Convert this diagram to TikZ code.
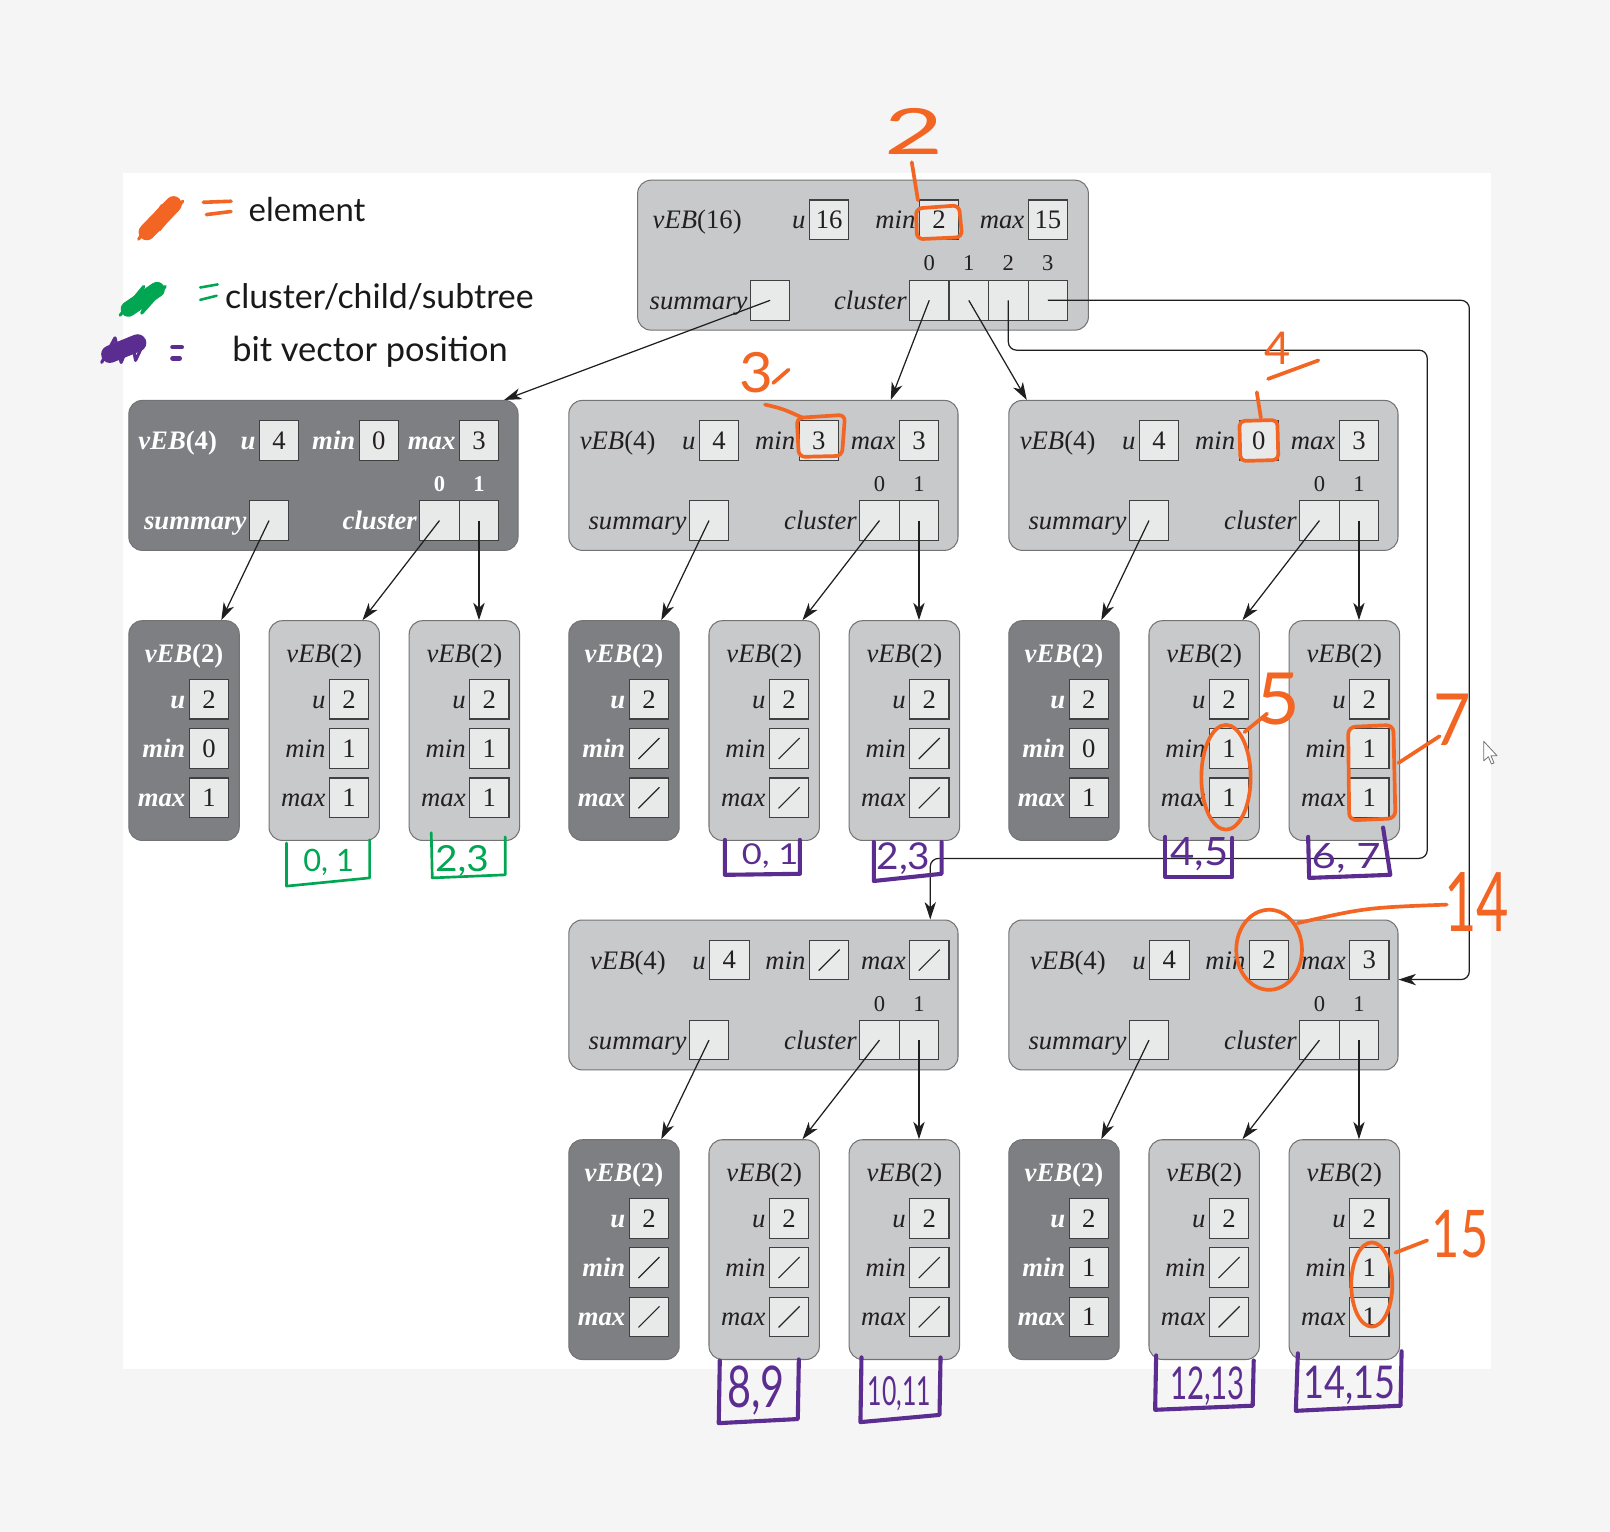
\documentclass[tikz,border=0pt]{standalone}
\usepackage{fontspec}
\usepackage{graphicx}
\setmainfont{Liberation Serif}
\newfontfamily\handfont{Lato}
\usetikzlibrary{arrows.meta,calc}
\definecolor{bgout}{RGB}{245,245,245}
\definecolor{panellight}{RGB}{200,201,203}
\definecolor{paneldark}{RGB}{126,127,131}
\definecolor{cellfill}{RGB}{232,233,233}
\definecolor{txtdark}{RGB}{35,31,32}
\definecolor{inkorange}{RGB}{242,101,34}
\definecolor{inkpurple}{RGB}{92,45,145}
\definecolor{inkgreen}{RGB}{0,166,81}
\tikzset{
  panel/.style={draw=black!55, line width=1pt, rounded corners=13pt, inner sep=0pt},
  lightpanel/.style={panel, fill=panellight},
  darkpanel/.style={panel, fill=paneldark},
  cell/.style={draw=black!75, line width=1.1pt, fill=cellfill, minimum size=38.5pt, inner sep=0pt, text=txtdark, font=\fontsize{26}{30}\selectfont},
  val/.style={node contents={#1}},
  nil/.style={node contents={}, path picture={\draw[line width=1.1pt, black!85] ($(path picture bounding box.south west)+(9pt,9pt)$) -- ($(path picture bounding box.north east)+(-9pt,-9pt)$);}},
  ltext/.style={inner sep=0pt, text=txtdark, font=\fontsize{26}{30}\selectfont\itshape},
  dtext/.style={inner sep=0pt, text=white, font=\fontsize{26}{30}\selectfont\bfseries\itshape},
  lidx/.style={inner sep=0pt, text=txtdark, font=\fontsize{22}{26}\selectfont},
  didx/.style={inner sep=0pt, text=white, font=\fontsize{22}{26}\selectfont\bfseries},
  conn/.style={draw=black!88, line width=1.2pt, -{Stealth[length=17pt,width=11pt,inset=5pt]}},
  hand/.style={line width=3.6pt, line cap=round, line join=round},
}
% vEB(4) panel: #1 name, #2 left, #3 top, #4 shift of top row, #5 min, #6 max, #7 panel style, #8 text style, #9 index style
\newcommand\vebfour[9]{%
  \node[#7, minimum width=379pt, minimum height=146pt] (#1) at (#2+189.5,#3+73) {};
  \node[#8, anchor=base] (#1-t) at (#2+47.5+#4,#3+47.8) {vEB\textup{(4)}};
  \node (#1-u) at (#2+146.3+#4,#3+39) [cell,val=4];
  \node[#8, anchor=base east] (#1-ul) at ($(#1-u.west)+(-3,8.8)$) {u};
  \node (#1-mn) at (#2+243.5+#4,#3+39) [cell,#5];
  \node[#8, anchor=base east] (#1-mnl) at ($(#1-mn.west)+(-3,8.8)$) {min};
  \node (#1-mx) at (#2+341+#4,#3+39) [cell,#6];
  \node[#8, anchor=base east] (#1-mxl) at ($(#1-mx.west)+(-3,8.8)$) {max};
  \node (#1-s) at (#2+136.5,#3+117) [cell,val={}];
  \node[#8, anchor=base east] (#1-sl) at ($(#1-s.west)+(-2,8.8)$) {summary};
  \node (#1-c0) at (#2+302.5,#3+117) [cell,val={}];
  \node (#1-c1) at (#2+341,#3+117) [cell,val={}];
  \node[#8, anchor=base east] (#1-cl) at ($(#1-c0.west)+(-2,8.8)$) {cluster};
  \node[#9] (#1-i0) at (#2+302.5,#3+81.5) {0};
  \node[#9] (#1-i1) at (#2+341,#3+81.5) {1};
}
% vEB(2) panel: #1 name, #2 left, #3 top, #4 min, #5 max, #6 panel style, #7 text style
\newcommand\vebtwo[7]{%
  \node[#6, minimum width=107.5pt, minimum height=214pt] (#1) at (#2+53.75,#3+107) {};
  \node[#7, anchor=base] (#1-t) at (#2+53.75,#3+41) {vEB\textup{(2)}};
  \node (#1-u) at (#2+78,#3+76.5) [cell,val=2];
  \node[#7, anchor=base east] (#1-ul) at ($(#1-u.west)+(-3,8.8)$) {u};
  \node (#1-mn) at (#2+78,#3+124.5) [cell,#4];
  \node[#7, anchor=base east] (#1-mnl) at ($(#1-mn.west)+(-3,8.8)$) {min};
  \node (#1-mx) at (#2+78,#3+172.5) [cell,#5];
  \node[#7, anchor=base east] (#1-mxl) at ($(#1-mx.west)+(-3,8.8)$) {max};
}
% hand-written label: #1 name, #2 colour, #3 size, #4 xscale, #5 position, #6 text
\newcommand\handlabel[6]{%
  \node[inner sep=0pt, text=#2, font=\handfont\fontsize{#3}{#3}\selectfont] (#1) at #5 {\scalebox{#4}[1]{#6}};
}
\begin{document}
\begin{tikzpicture}[x=1pt,y=-1pt]
\useasboundingbox (0,0) rectangle (1568,1492);
\fill[bgout] (0,0) rectangle (1568,1492);
\fill[white] (120,168) rectangle (1452,1333);

% ---------- root vEB(16)
\node[lightpanel, minimum width=439pt, minimum height=146pt] (T) at (840.5,248.5) {};
\node[ltext, anchor=base] (T-t) at (679,222.8) {vEB\textup{(16)}};
\node (T-u) at (807.5,214) [cell,val=16];
\node[ltext, anchor=base east] (T-ul) at ($(T-u.west)+(-3,8.8)$) {u};
\node (T-mn) at (914.5,214) [cell,val=2];
\node[ltext, anchor=base east] (T-mnl) at ($(T-mn.west)+(-3,8.8)$) {min};
\node (T-mx) at (1020.5,214) [cell,val=15];
\node[ltext, anchor=base east] (T-mxl) at ($(T-mx.west)+(-3,8.8)$) {max};
\node (T-s) at (750,292.5) [cell,val={}];
\node[ltext, anchor=base east] (T-sl) at ($(T-s.west)+(-2,8.8)$) {summary};
\foreach \i/\xx in {0/905,1/943.5,2/982,3/1020.5}{
  \node (T-c\i) at (\xx,292.5) [cell,val={}];
  \node[lidx] (T-i\i) at (\xx,256.5) {\i};
}
\node[ltext, anchor=base east] (T-cl) at ($(T-c0.west)+(-2,8.8)$) {cluster};

% ---------- vEB(4) panels
\vebfour{A}{125.5}{390}{0}{val=0}{val=3}{darkpanel}{dtext}{didx}
\vebfour{B}{554}{390}{0}{val=3}{val=3}{lightpanel}{ltext}{lidx}
\vebfour{C}{982.5}{390}{0}{val=0}{val=3}{lightpanel}{ltext}{lidx}
\vebfour{D}{554}{896}{10}{nil}{nil}{lightpanel}{ltext}{lidx}
\vebfour{E}{982.5}{896}{10}{val=2}{val=3}{lightpanel}{ltext}{lidx}

% ---------- vEB(2) panels
\vebtwo{A0}{125.5}{604.5}{val=0}{val=1}{darkpanel}{dtext}
\vebtwo{A1}{262}{604.5}{val=1}{val=1}{lightpanel}{ltext}
\vebtwo{A2}{398.5}{604.5}{val=1}{val=1}{lightpanel}{ltext}
\vebtwo{B0}{554}{604.5}{nil}{nil}{darkpanel}{dtext}
\vebtwo{B1}{690.5}{604.5}{nil}{nil}{lightpanel}{ltext}
\vebtwo{B2}{827}{604.5}{nil}{nil}{lightpanel}{ltext}
\vebtwo{C0}{982.5}{604.5}{val=0}{val=1}{darkpanel}{dtext}
\vebtwo{C1}{1119}{604.5}{val=1}{val=1}{lightpanel}{ltext}
\vebtwo{C2}{1255.5}{604.5}{val=1}{val=1}{lightpanel}{ltext}
\vebtwo{D0}{554}{1110}{nil}{nil}{darkpanel}{dtext}
\vebtwo{D1}{690.5}{1110}{nil}{nil}{lightpanel}{ltext}
\vebtwo{D2}{827}{1110}{nil}{nil}{lightpanel}{ltext}
\vebtwo{E0}{982.5}{1110}{val=1}{val=1}{darkpanel}{dtext}
\vebtwo{E1}{1119}{1110}{nil}{nil}{lightpanel}{ltext}
\vebtwo{E2}{1255.5}{1110}{val=1}{val=1}{lightpanel}{ltext}

% ---------- connectors
\draw[conn] (T-s.center) -- ($(A.north east)+(-14,0)$);
\draw[conn] (T-c0.center) -- ($(B.north east)+(-66,0)$);
\draw[conn] (T-c1.center) -- ($(C.north west)+(18,0)$);
\coordinate (k1) at (1390,341);
\coordinate (k2) at (1390,836);
\coordinate (k3) at (906,836);
\draw[conn, rounded corners=8pt] (T-c2.center) |- (k1) -- (k2) -- (k3) -- (k3 |- D.north);
\coordinate (k4) at (1431,954);
\draw[conn, rounded corners=8pt] (T-c3.center) -| (k4) -- (k4 -| E.east);
\foreach \g in {A,B,C,D,E}{
  \draw[conn] (\g-s.center) -- ($(\g0.north east)+(-18,0)$);
  \draw[conn] (\g-c0.center) -- ($(\g1.north east)+(-17,0)$);
  \draw[conn] (\g-c1.center) -- (\g-c1.center |- \g2.north);
}

% ---------- legend
\draw[inkorange, line width=16pt, line cap=round] (143,226) -- (169,199);
\draw[hand, inkorange, line width=3pt] (135,233) -- (158,200) -- (145,228) -- (171,195) -- (155,224) -- (178,196);
\draw[hand, inkorange, line width=3.5pt] (198,197) -- (225,196);
\draw[hand, inkorange, line width=3.5pt] (201,209) -- (225,206);
\node[inner sep=0pt, anchor=base west, font=\handfont\fontsize{32}{32}\selectfont, text=black!90] (lg1) at (242,216) {element};

\draw[inkgreen, line width=15pt, line cap=round] (125,301) -- (153,282);
\draw[hand, inkgreen, line width=3pt] (117,307) -- (140,279) -- (127,305) -- (152,277) -- (138,305) -- (161,279);
\draw[hand, inkgreen, line width=2.5pt] (195,280) -- (212,277);
\draw[hand, inkgreen, line width=2.5pt] (195,292) -- (211,288);
\node[inner sep=0pt, anchor=base west, font=\handfont\fontsize{33}{33}\selectfont, text=black!90] (lg2) at (219,300) {cluster/child/subtree};

\draw[inkpurple, line width=17pt, line cap=round] (107,345) -- (134,334);
\draw[hand, inkpurple, line width=3pt] (99,353) -- (112,329) -- (118,353) -- (128,329) -- (132,351) -- (141,332);
\draw[hand, inkpurple, line width=4.5pt] (168,338) -- (177,338);
\draw[hand, inkpurple, line width=4.5pt] (168,349) -- (175,349);
\node[inner sep=0pt, anchor=base west, font=\handfont\fontsize{33.5}{33.5}\selectfont, text=black!90] (lg3) at (226,352) {bit vector position};

% ---------- orange annotations
\handlabel{o2}{inkorange}{62}{1.6}{(890,128)}{2}
\draw[hand, inkorange] (888,158) -- (894,195);
\draw[hand, inkorange, rounded corners=6pt] (892,203) -- (934,200) -- (937,231) -- (893,233) -- cycle;

\handlabel{o3}{inkorange}{54}{1.05}{(737,363)}{3}
\draw[hand, inkorange] (753,373) -- (768,360);
\draw[hand, inkorange] (745,394) .. controls (762,398) .. (782,407);
\draw[hand, inkorange, rounded corners=6pt] (776,407) -- (823,404) -- (820,444) -- (778,445) -- cycle;

\handlabel{o4}{inkorange}{44}{1}{(1244,339)}{4}
\draw[hand, inkorange] (1235,369) -- (1284,351);
\draw[hand, inkorange] (1224,382) -- (1228,407);
\draw[hand, inkorange, rounded corners=5pt] (1207,410) -- (1244,409) -- (1245,448) -- (1208,449) -- cycle;

\handlabel{o5}{inkorange}{70}{1.05}{(1245,681)}{5}
\draw[hand, inkorange] (1212,713) -- (1234,695);
\draw[hand, inkorange] (1194,757) ellipse [x radius=24, y radius=51];

\handlabel{o7}{inkorange}{70}{0.9}{(1414,701)}{7}
\draw[hand, inkorange] (1362,743) -- (1402,717);
\draw[hand, inkorange, rounded corners=7pt] (1313,708) -- (1357,706) -- (1359,797) -- (1314,799) -- cycle;

\handlabel{o14}{inkorange}{80}{0.68}{(1438,878)}{14}
\draw[hand, inkorange] (1264,899) .. controls (1330,884) .. (1409,881);
\draw[hand, inkorange] (1236,925) ellipse [x radius=32, y radius=39];

\handlabel{o15}{inkorange}{64}{0.74}{(1422,1202)}{15}
\draw[hand, inkorange] (1359,1220) -- (1390,1208);
\draw[hand, inkorange] (1336,1251) ellipse [x radius=20, y radius=41];

% ---------- green brackets
\draw[hand, inkgreen, line width=2.6pt] (279,821) -- (279,863) -- (360,855) -- (360,818);
\handlabel{g01}{inkgreen}{30}{1}{(320,840)}{0, 1}
\draw[hand, inkgreen, line width=2.6pt] (420,811) -- (421,855) -- (492,852) -- (492,815);
\handlabel{g23}{inkgreen}{35}{1.08}{(450,838)}{2,3}

% ---------- purple brackets
\draw[hand, inkpurple, line width=4pt] (706,818) -- (706,852) -- (779,851) -- (779,818);
\handlabel{p01}{inkpurple}{28}{1.2}{(750,834)}{0, 1}
\draw[hand, inkpurple, line width=4pt] (851,820) -- (851,858) -- (917,851) -- (917,820);
\handlabel{p23}{inkpurple}{36}{1.05}{(880,836)}{2,3}
\draw[hand, inkpurple, line width=4pt] (1135,815) -- (1135,854) -- (1200,854) -- (1200,816);
\handlabel{p45}{inkpurple}{38}{1.07}{(1168,832)}{4,5}
\draw[hand, inkpurple, line width=4pt] (1274,815) -- (1275,855) -- (1354,852) -- (1347,806);
\handlabel{p67}{inkpurple}{34}{1.2}{(1311,836)}{6, 7}
\draw[hand, inkpurple, line width=4pt] (701,1325) -- (700,1386) -- (777,1382) -- (778,1324);
\handlabel{p89}{inkpurple}{56}{0.72}{(736,1354)}{8,9}
\draw[hand, inkpurple, line width=4pt] (839,1322) -- (838,1385) -- (915,1378) -- (916,1322);
\handlabel{p1011}{inkpurple}{39}{0.62}{(876,1357)}{10,11}
\draw[hand, inkpurple, line width=4pt] (1126,1320) -- (1125,1373) -- (1220,1369) -- (1221,1325);
\handlabel{p1213}{inkpurple}{44}{0.65}{(1176,1350)}{12,13}
\draw[hand, inkpurple, line width=4pt] (1264,1318) -- (1262,1374) -- (1364,1369) -- (1365,1316);
\handlabel{p1415}{inkpurple}{44}{0.8}{(1314,1349)}{14,15}

% ---------- mouse pointer
\draw[black!55, fill=white, line width=0.8pt, line join=round] (1445,722) -- (1445,741) -- (1449.5,737) -- (1452.5,744) -- (1455,743) -- (1452,736) -- (1458,736) -- cycle;
\end{tikzpicture}
\end{document}
